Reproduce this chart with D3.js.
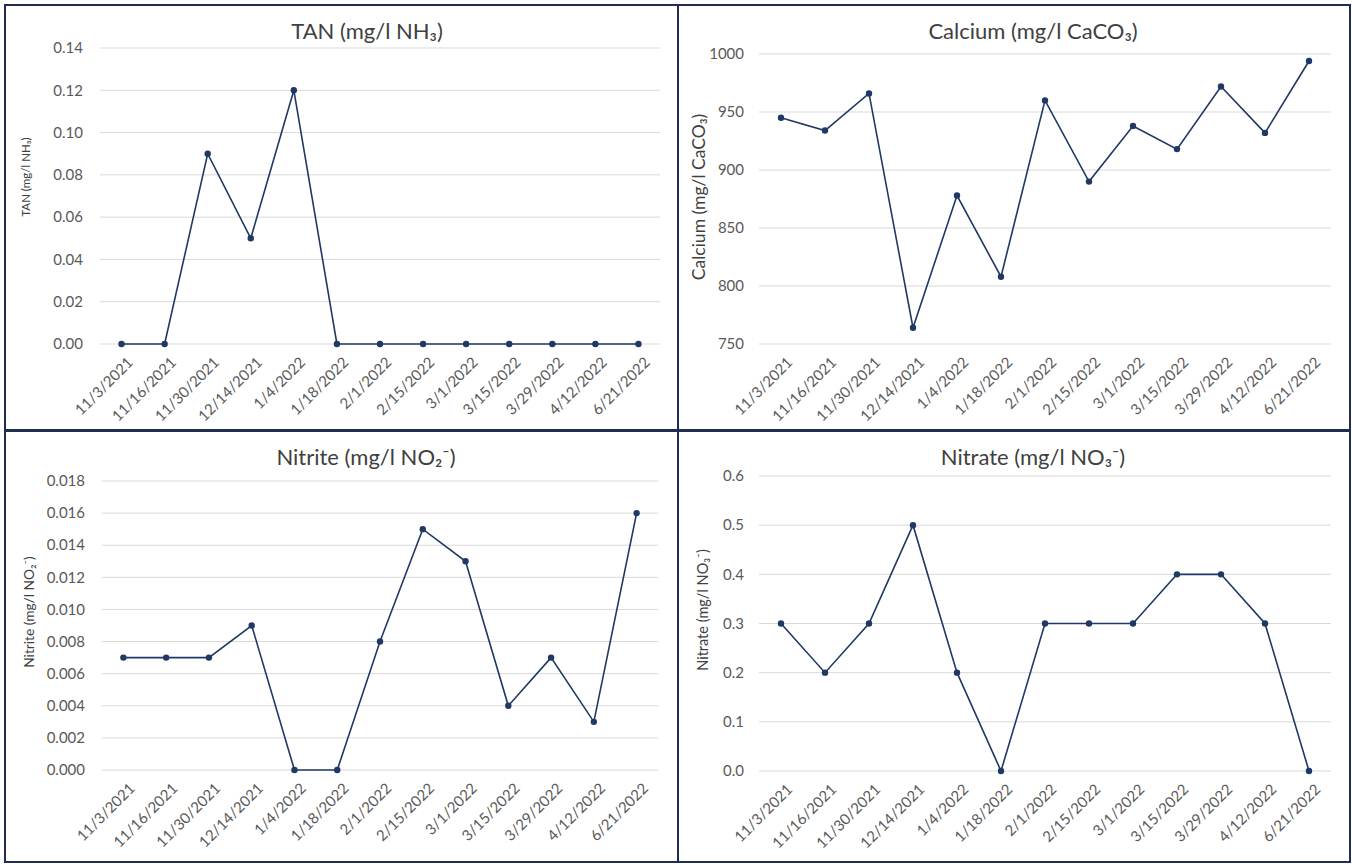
<!DOCTYPE html>
<html>
<head>
    <title>Water quality</title>
    <script src="https://d3js.org/d3.v7.min.js"></script>
    <style>
        body {
            margin: 0;
            background: #fff;
            font-family: Lato, "Open Sans", sans-serif;
        }
        .grid line {
            stroke: #d9d9d9;
            stroke-width: 1px;
        }
        .tick-label {
            fill: #595959;
            font-size: 15px;
        }
        .title {
            fill: #404040;
            font-size: 22px;
        }
        .ylabel {
            fill: #404040;
        }
        .series {
            fill: none;
            stroke: #1f3864;
            stroke-width: 1.6px;
        }
        .dot {
            fill: #1f3864;
        }
        .frame {
            fill: none;
            stroke: #1f2d4e;
            stroke-width: 2px;
        }
    </style>
</head>
<body>
    <div id="chart"></div>
    <script>
        // sampling dates (category axis, same for all four panels)
        const dates = ["11/3/2021", "11/16/2021", "11/30/2021", "12/14/2021", "1/4/2022",
            "1/18/2022", "2/1/2022", "2/15/2022", "3/1/2022", "3/15/2022",
            "3/29/2022", "4/12/2022", "6/21/2022"];

        const tanValues = [0, 0, 0.09, 0.05, 0.12, 0, 0, 0, 0, 0, 0, 0, 0];
        const calciumValues = [945, 934, 966, 764, 878, 808, 960, 890, 938, 918, 972, 932, 994];
        const nitriteValues = [0.007, 0.007, 0.007, 0.009, 0, 0, 0.008, 0.015, 0.013, 0.004, 0.007, 0.003, 0.016];
        const nitrateValues = [0.3, 0.2, 0.3, 0.5, 0.2, 0, 0.3, 0.3, 0.3, 0.4, 0.4, 0.3, 0];

        const tanTicks = [0, 0.02, 0.04, 0.06, 0.08, 0.10, 0.12, 0.14];
        const calciumTicks = [750, 800, 850, 900, 950, 1000];
        const nitriteTicks = [0, 0.002, 0.004, 0.006, 0.008, 0.010, 0.012, 0.014, 0.016, 0.018];
        const nitrateTicks = [0, 0.1, 0.2, 0.3, 0.4, 0.5, 0.6];

        const svg = d3.select("#chart")
            .append("svg")
            .attr("width", 1352)
            .attr("height", 865);

        // layout of each panel (frame, plot area, title centre, y title placement)
        const panels = [
            { title: "TAN (mg/l NH\u2083)", values: tanValues, ticks: tanTicks, fmt: d3.format(".2f"),
              frame: [5, 5, 673, 425], x: [100, 660], y: [344, 48], gap: 17,
              tx: 367, yl: [26, 177, 11.5] },
            { title: "Calcium (mg/l CaCO\u2083)", values: calciumValues, ticks: calciumTicks, fmt: d3.format("d"),
              frame: [678, 5, 672, 425], x: [759, 1331], y: [344, 54], gap: 15,
              tx: 1033, yl: [699, 197, 17.5] },
            { title: "Nitrite (mg/l NO\u2082\u207B)", values: nitriteValues, ticks: nitriteTicks, fmt: d3.format(".3f"),
              frame: [5, 431, 673, 431], x: [102, 658], y: [770, 481], gap: 17,
              tx: 366, yl: [29, 612, 13.7] },
            { title: "Nitrate (mg/l NO\u2083\u207B)", values: nitrateValues, ticks: nitrateTicks, fmt: d3.format(".1f"),
              frame: [678, 431, 672, 431], x: [759, 1331], y: [771, 476], gap: 15,
              tx: 1033, yl: [703, 610, 14.5] }
        ];

        panels.forEach(p => {
            const g = svg.append("g");

            const x = d3.scalePoint()
                .domain(dates)
                .range(p.x)
                .padding(0.5);

            const y = d3.scaleLinear()
                .domain([p.ticks[0], p.ticks[p.ticks.length - 1]])
                .range(p.y);

            // gridlines
            g.append("g")
                .attr("class", "grid")
                .selectAll("line")
                .data(p.ticks)
                .enter()
                .append("line")
                .attr("x1", p.x[0])
                .attr("x2", p.x[1])
                .attr("y1", d => y(d))
                .attr("y2", d => y(d));

            // y tick labels
            g.append("g")
                .selectAll("text")
                .data(p.ticks)
                .enter()
                .append("text")
                .attr("class", "tick-label")
                .attr("x", p.x[0] - p.gap)
                .attr("y", d => y(d))
                .attr("dy", "0.35em")
                .style("text-anchor", "end")
                .text(d => p.fmt(d));

            // x tick labels, rotated 45deg
            const base = p.y[0] + 12;
            g.append("g")
                .selectAll("text")
                .data(dates)
                .enter()
                .append("text")
                .attr("class", "tick-label")
                .attr("transform", d => `translate(${x(d) + 5},${base}) rotate(-45)`)
                .attr("dy", "0.7em")
                .style("text-anchor", "end")
                .text(d => d);

            // title
            g.append("text")
                .attr("class", "title")
                .attr("x", p.tx)
                .attr("y", p.frame[1] + 34)
                .style("text-anchor", "middle")
                .text(p.title);

            // y axis title (size differs per panel in the original)
            g.append("text")
                .attr("class", "ylabel")
                .attr("transform", `translate(${p.yl[0]},${p.yl[1]}) rotate(-90)`)
                .attr("dy", "0.35em")
                .style("font-size", p.yl[2] + "px")
                .style("text-anchor", "middle")
                .text(p.title);

            // series line and markers
            const line = d3.line()
                .x((d, i) => x(dates[i]))
                .y(d => y(d));

            g.append("path")
                .datum(p.values)
                .attr("class", "series")
                .attr("d", line);

            g.append("g")
                .selectAll("circle")
                .data(p.values)
                .enter()
                .append("circle")
                .attr("class", "dot")
                .attr("cx", (d, i) => x(dates[i]))
                .attr("cy", d => y(d))
                .attr("r", 3.2);

            // panel frame
            g.append("rect")
                .attr("class", "frame")
                .attr("x", p.frame[0])
                .attr("y", p.frame[1])
                .attr("width", p.frame[2])
                .attr("height", p.frame[3]);
        });
    </script>
</body>
</html>
